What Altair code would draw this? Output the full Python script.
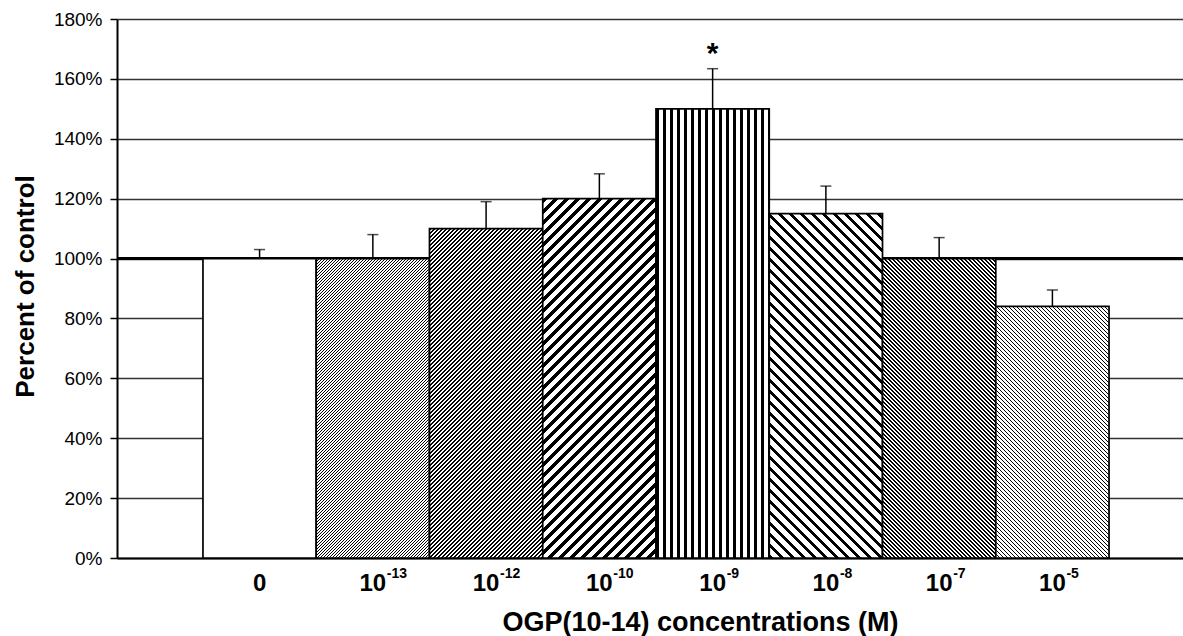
import math
import altair as alt
import pandas as pd

# ---------------- data ----------------
cats = ["0", "10^-13", "10^-12", "10^-10", "10^-9", "10^-8", "10^-7", "10^-5"]
bases = ["0", "10", "10", "10", "10", "10", "10", "10"]
exps = ["", " -13", " -12", " -10", " -9", "-8", " -7", "-5"]
values = [100, 100, 110, 120, 150, 115, 100, 84]
errs = [3, 8, 9, 8.3, 13.4, 9.2, 7, 5.5]
sig = ["", "", "", "", "*", "", "", ""]

df = pd.DataFrame({
    "cat": cats, "base": bases, "exp": exps, "value": values,
    "upper": [v + e for v, e in zip(values, errs)], "sig": sig,
})

# ---------------- layout / style ----------------
W, H = 1066, 539
YMAX = 180
POUT = 0.706
ALIGN = 0.5375
BAND = W / (len(cats) + 2 * POUT)
FONT = "Liberation Sans"

# hatch styles: (kind, period in pixel rows/diagonals, black rows per period)
styles = [
    ("none", 0, 0),
    ("up", 3, 1),
    ("up", 4, 2),
    ("up", 11, 5),
    ("vert", 7, 3),
    ("down", 11, 4),
    ("down", 4, 2),
    ("down", 4, 1),
]


def stripes(kind, period, black, w, h):
    s = 1.0 if kind == "vert" else 1 / math.sqrt(2)   # sample spacing along normal
    if kind == "vert":
        L = w
        x1, y1, x2, y2 = 0, 0, 1, 0
    else:
        L = (w + h) / math.sqrt(2)
        a = (w + h) / (w * w + h * h)
        if kind == "up":
            x1, y1, x2, y2 = 0, 0, a * w, a * h
        else:
            x1, y1, x2, y2 = 0, 1, a * w, 1 - a * h
    step = period * s / L
    bstep = black * s / L
    stops = []
    t = 0.0
    while t < 1:
        tb = min(t + bstep, 1.0)
        te = min(t + step, 1.0)
        stops += [
            {"offset": round(t, 6), "color": "#000000"},
            {"offset": round(tb, 6), "color": "#000000"},
            {"offset": round(tb, 6), "color": "#ffffff"},
            {"offset": round(te, 6), "color": "#ffffff"},
        ]
        t += step
    return {"gradient": "linear", "x1": x1, "y1": y1, "x2": x2, "y2": y2, "stops": stops}


xscale = alt.Scale(domain=cats, paddingInner=0, paddingOuter=POUT, align=ALIGN)
yscale = alt.Scale(domain=[0, YMAX], nice=False, zero=True)

xaxis = alt.Axis(
    title="OGP(10-14) concentrations (M)",
    labelExpr="datum.value == '0' ? '0' : '10'",
    labelAngle=0, labelFont=FONT, labelFontSize=24, labelFontWeight="bold",
    labelColor="black", labelBaseline="alphabetic", labelPadding=32,
    ticks=False, tickSize=0, grid=False,
    domainColor="black", domainWidth=2,
    titleFont=FONT, titleFontSize=27, titleFontWeight="bold", titleColor="black",
    titleX=583, titleY=72, titleAlign="center", titleBaseline="alphabetic",
    titleAnchor="start",
)
yaxis = alt.Axis(
    title="Percent of control",
    values=list(range(0, 181, 20)),
    labelExpr="datum.value + '%'",
    labelFont=FONT, labelFontSize=19, labelColor="black", labelPadding=8,
    tickSize=7, tickColor="black", tickWidth=1.5,
    domainColor="black", domainWidth=2,
    grid=True, gridColor="#333333", gridWidth=1.5,
    titleFont=FONT, titleFontSize=26, titleFontWeight="bold", titleColor="black",
    titleAngle=270, titleX=-84, titleY=267, titleAlign="center",
    titleBaseline="alphabetic", titleAnchor="start",
)

xenc = alt.X("cat:N", sort=cats, scale=xscale, axis=xaxis)

base = alt.Chart(df)

layers = []
# thick 100% reference line (behind bars)
layers.append(
    base.mark_rule(color="black", strokeWidth=3).encode(
        y=alt.datum(100, scale=yscale, axis=yaxis)
    )
)

for i, c in enumerate(cats):
    kind, per, blk = styles[i]
    w = BAND
    h = values[i] * H / YMAX
    fill = "#ffffff" if kind == "none" else stripes(kind, per, blk, w, h)
    layers.append(
        base.transform_filter(alt.datum.cat == c)
        .mark_bar(fill=fill, stroke="black", strokeWidth=1.7, opacity=1)
        .encode(x=xenc, y=alt.Y("value:Q", scale=yscale, axis=yaxis))
    )

# error bars (upper only)
layers.append(
    base.mark_rule(color="black", strokeWidth=1.5).encode(
        x=xenc,
        y=alt.Y("value:Q", scale=yscale, axis=yaxis),
        y2="upper:Q",
    )
)
layers.append(
    base.mark_tick(color="black", thickness=1.5, size=11, orient="horizontal").encode(
        x=xenc, y=alt.Y("upper:Q", scale=yscale, axis=yaxis)
    )
)
# significance asterisk
layers.append(
    base.mark_text(font=FONT, fontSize=30, fontWeight="bold", color="black",
                   baseline="alphabetic", dy=-6).encode(
        x=xenc, y=alt.Y("upper:Q", scale=yscale, axis=yaxis), text="sig:N"
    )
)
# exponents of the tick labels
layers.append(
    base.mark_text(font=FONT, fontSize=14, fontWeight="bold", color="black",
                   align="left", baseline="alphabetic", dx=14).encode(
        x=xenc, y=alt.value(H + 20), text="exp:N"
    )
)

chart = (
    alt.layer(*layers)
    .properties(width=W, height=H, autosize="none",
                padding={"left": 117, "top": 19, "right": 0, "bottom": 78},
                background="white")
    .configure_view(stroke=None)
)

chart.save("out.html", embed_options={"renderer": "svg", "actions": False})
